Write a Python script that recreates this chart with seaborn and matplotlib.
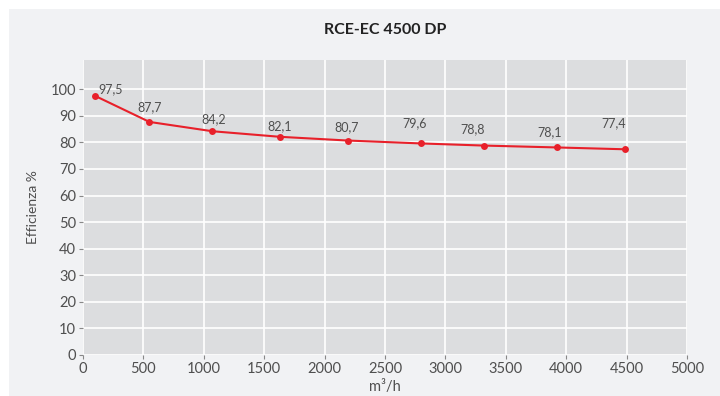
import matplotlib
matplotlib.use("Agg")
import matplotlib.pyplot as plt
from matplotlib.patches import Rectangle
import seaborn as sns
import pandas as pd

# Data
portata = [100, 550, 1070, 1630, 2190, 2800, 3320, 3920, 4490]
efficienza = [97.5, 87.7, 84.2, 82.1, 80.7, 79.6, 78.8, 78.1, 77.4]
x_ticks = [0, 500, 1000, 1500, 2000, 2500, 3000, 3500, 4000, 4500, 5000]
y_ticks = [0, 10, 20, 30, 40, 50, 60, 70, 80, 90, 100]

# label offsets in pixels (dx, dy)
label_offsets = [(16, 7), (0, 15), (1, 12), (0, 11), (-1, 13), (-7, 20), (-11, 16), (-7, 15), (-12, 26)]

sns.set_theme(style="darkgrid")
plt.rcParams["font.family"] = ["Lato", "DejaVu Sans"]

RED = "#e8202a"
TEXT = "#4f4f4f"
PANEL = "#f1f2f4"
PLOT_BG = "#dcdddf"

df = pd.DataFrame({"portata": portata, "efficienza": efficienza})

fig = plt.figure(figsize=(7.2, 3.96), dpi=100, facecolor="white")
fig.patches.append(Rectangle((9 / 720, 0), 1, 1 - 9 / 396, transform=fig.transFigure,
                             facecolor=PANEL, edgecolor="none", zorder=-10))
ax = fig.add_axes([83 / 720, 41 / 396, 604 / 720, 295 / 396])
ax.set_facecolor(PLOT_BG)

sns.lineplot(data=df, x="portata", y="efficienza", ax=ax, color=RED, linewidth=1.5,
             marker="o", markersize=5, markeredgewidth=0, markerfacecolor=RED)

for x, y, (dx, dy) in zip(portata, efficienza, label_offsets):
    ax.annotate(f"{y:.1f}".replace(".", ","), (x, y), xytext=(dx, dy), textcoords="offset pixels",
                ha="center", va="center", fontsize=9, color=TEXT)

ax.set_xlim(0, 5000)
ax.set_ylim(0, 111)
ax.set_xticks(x_ticks)
ax.set_yticks(y_ticks)
ax.grid(True, color="white", linewidth=1.2)
for s in ax.spines.values():
    s.set_visible(False)
ax.tick_params(axis="both", which="both", length=3, width=0.8, color="#888888",
               labelcolor=TEXT, labelsize=10.5, pad=2, bottom=True, left=True)

ax.set_xlabel("m³/h", fontsize=10.5, color=TEXT, labelpad=3)
ax.set_ylabel("Efficienza %", fontsize=10, color=TEXT, labelpad=8)
fig.text(385 / 720, 1 - 30 / 396, "RCE-EC 4500 DP", ha="center", va="center",
         fontsize=11.5, fontweight="bold", color="#222222")

fig.savefig("out.png", dpi=100, facecolor=fig.get_facecolor())
